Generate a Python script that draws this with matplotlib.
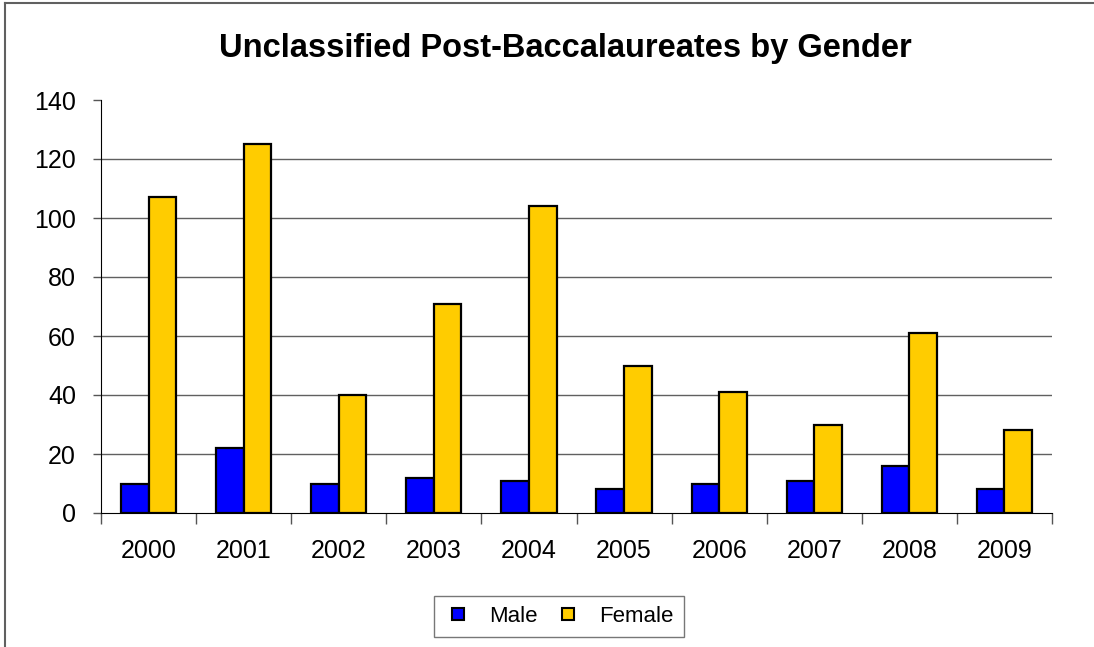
import matplotlib.pyplot as plt
import numpy as np
from matplotlib.lines import Line2D

plt.rcParams['font.family'] = ['Liberation Sans', 'DejaVu Sans']

# === Data ===
years = ['2000', '2001', '2002', '2003', '2004', '2005', '2006', '2007', '2008', '2009']
male = [10, 22, 10, 12, 11, 8, 10, 11, 16, 8]
female = [107, 125, 40, 71, 104, 50, 41, 30, 61, 28]

# === Figure setup ===
fig = plt.figure(figsize=(10.94, 6.47), dpi=100)
ax = fig.add_axes([101 / 1094, 1 - 513 / 647, (1052 - 101) / 1094, (513 - 100) / 647])

x = np.arange(len(years))
w = 0.29
ax.bar(x - w / 2, male, w, color='#0000ff', edgecolor='black', linewidth=1.6,
       label='Male', zorder=3)
ax.bar(x + w / 2, female, w, color='#ffcc00', edgecolor='black', linewidth=1.6,
       label='Female', zorder=3)

ax.set_xlim(-0.5, len(years) - 0.5)
ax.set_ylim(0, 140)
ax.set_yticks(range(0, 141, 20))
ax.set_yticklabels([str(v) for v in range(0, 141, 20)], fontsize=18)

# category labels centered, ticks on boundaries
ax.set_xticks(x)
ax.set_xticklabels(years, fontsize=18)
ax.tick_params(axis='x', which='major', length=0, pad=19)
ax.set_xticks(np.arange(-0.5, len(years)), minor=True)
ax.tick_params(axis='x', which='minor', length=8, width=1, color='#555555', direction='out')
ax.tick_params(axis='y', length=6, width=1, color='#555555', direction='out', pad=12)

# gridlines (no line at top)
for v in range(20, 140, 20):
    ax.axhline(v, color='#606060', linewidth=1, zorder=1)

for s in ['top', 'right']:
    ax.spines[s].set_visible(False)
ax.spines['left'].set_color('black')
ax.spines['bottom'].set_color('black')

# === Title ===
fig.text(0.517, 1 - 48 / 647, 'Unclassified Post-Baccalaureates by Gender',
         ha='center', va='center', fontsize=23.5, fontweight='bold')

# === Legend ===
handles = [
    Line2D([], [], marker='s', linestyle='none', markersize=9,
           markerfacecolor='#0000ff', markeredgecolor='black', markeredgewidth=1.5),
    Line2D([], [], marker='s', linestyle='none', markersize=9,
           markerfacecolor='#ffcc00', markeredgecolor='black', markeredgewidth=1.5),
]
leg = fig.legend(handles, ['Male', 'Female'], loc='center',
                 bbox_to_anchor=(559 / 1094, 1 - 616 / 647), ncol=2, fontsize=16,
                 frameon=True, fancybox=False, edgecolor='#555555',
                 handlelength=1.2, handletextpad=0.8, columnspacing=0.8, borderpad=0.45)
leg.get_frame().set_linewidth(1)

# === Outer chart border (top and left visible) ===
fig.add_artist(Line2D([5 / 1094, 5 / 1094], [0, 1 - 3 / 647], transform=fig.transFigure,
                      color='#606060', linewidth=1.5))
fig.add_artist(Line2D([5 / 1094, 1], [1 - 3 / 647, 1 - 3 / 647], transform=fig.transFigure,
                      color='#606060', linewidth=1.5))

fig.savefig('out.png', dpi=100)
